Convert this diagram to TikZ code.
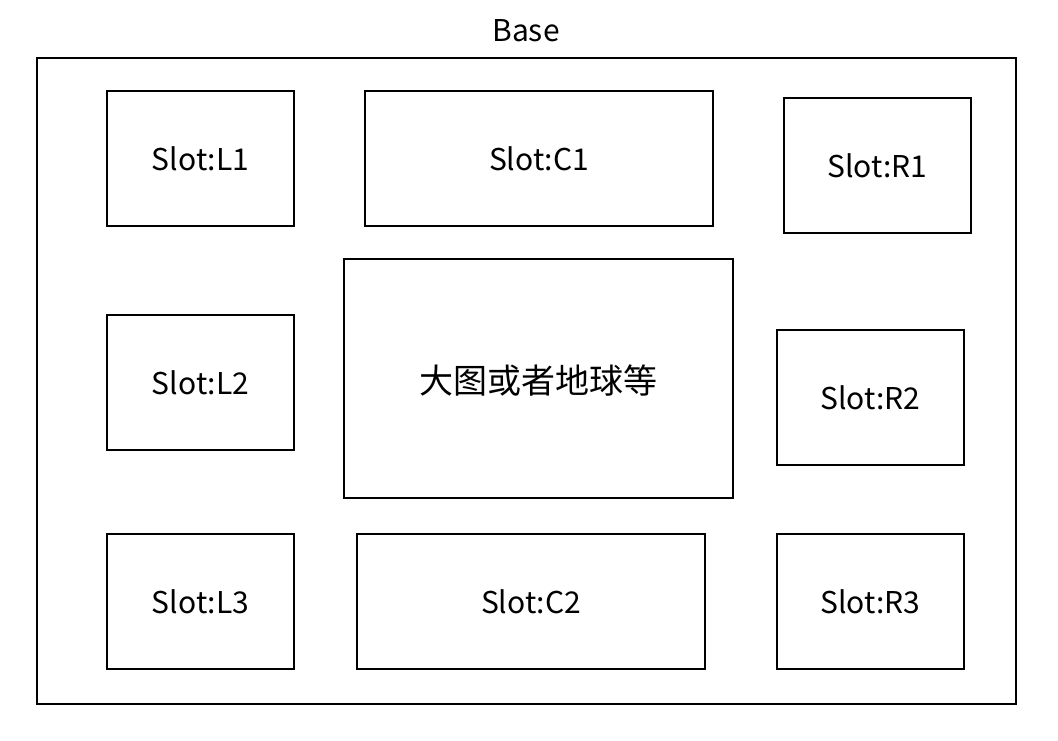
\documentclass[tikz,border=0pt]{standalone}
\usepackage{fontspec}
\setmainfont{Noto Sans CJK SC}
\begin{document}
\begin{tikzpicture}[x=1pt,y=-1pt,
  box/.style={draw=black,line width=1.5pt,fill=white},
  lbl/.style={font=\fontsize{30}{34}\selectfont,text=black},
  cjklbl/.style={font=\fontsize{34}{38}\selectfont,text=black}]
\useasboundingbox (0,0) rectangle (1058,740);
\fill[white] (0,0) rectangle (1058,740);
\draw[box] (37,58) rectangle (1016,704);
\node[lbl] (base) at (526,31) {Base};
\draw[box] (107,91) rectangle (294,226) node[lbl,midway] (l1) {Slot:L1};
\draw[box] (365,91) rectangle (713,226) node[lbl,midway] (c1) {Slot:C1};
\draw[box] (784,98) rectangle (971,233) node[lbl,midway] (r1) {Slot:R1};
\draw[box] (107,315) rectangle (294,450) node[lbl,midway] (l2) {Slot:L2};
\draw[box] (344,259) rectangle (733,498) node[cjklbl,midway,yshift=-2pt] (mid) {大图或者地球等};
\draw[box] (777,330) rectangle (964,465) node[lbl,midway] (r2) {Slot:R2};
\draw[box] (107,534) rectangle (294,669) node[lbl,midway] (l3) {Slot:L3};
\draw[box] (357,534) rectangle (705,669) node[lbl,midway] (c2) {Slot:C2};
\draw[box] (777,534) rectangle (964,669) node[lbl,midway] (r3) {Slot:R3};
\end{tikzpicture}
\end{document}
